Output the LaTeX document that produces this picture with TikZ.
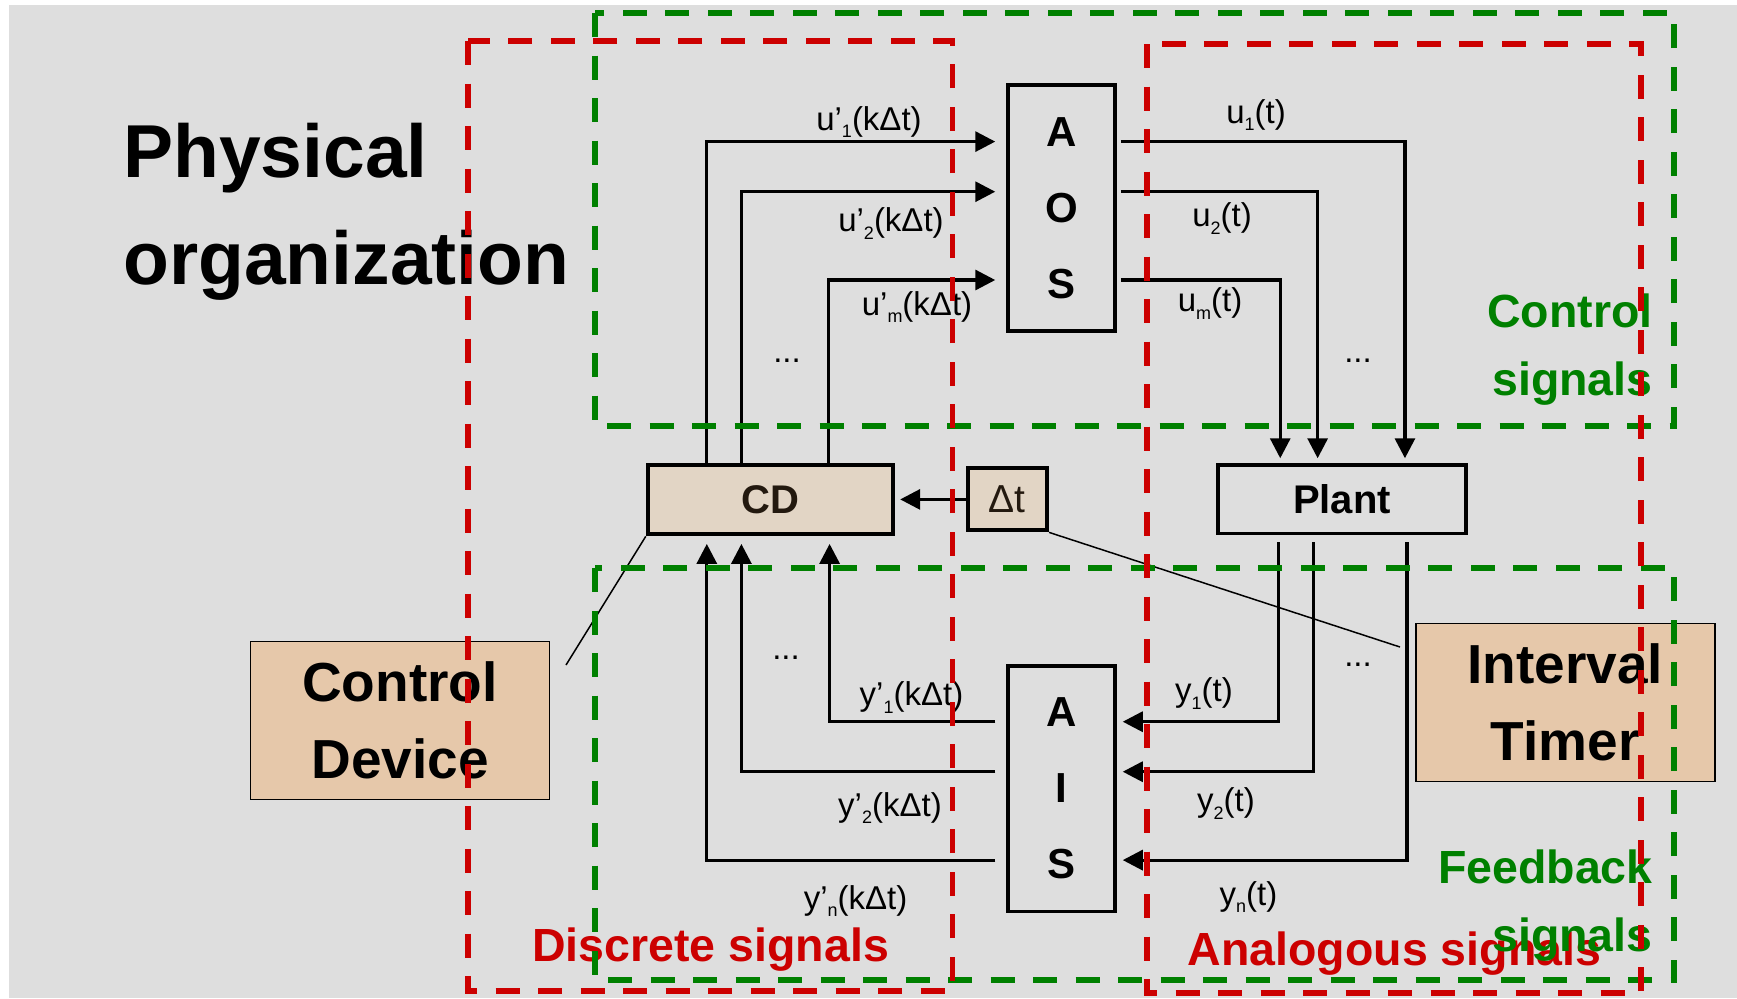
\documentclass[tikz,border=0pt]{standalone}
\usepackage{fontspec}
\setmainfont{Liberation Sans}
\usepackage{xcolor}
\usetikzlibrary{positioning, arrows.meta}
\definecolor{panelgray}{HTML}{DEDEDE}
\definecolor{framered}{HTML}{CC0000}
\definecolor{framegreen}{HTML}{008000}
\definecolor{cdbeige}{HTML}{E2D5C5}
\definecolor{calloutpeach}{HTML}{E6C8AA}
\definecolor{cdink}{HTML}{23190F}
\newcommand{\sigsub}[1]{\raisebox{-3.8pt}{\fontsize{9}{10}\selectfont #1}}
\tikzset{
  heading/.style={inner sep=0pt, align=left, font=\fontsize{37.5}{53.25}\selectfont\bfseries},
  unitbox/.style={draw=black, line width=1.75pt, inner sep=0pt, minimum width=53.5pt, minimum height=122.9pt, align=center, font=\fontsize{21}{38}\selectfont\bfseries},
  cdbox/.style={draw=black, line width=2.2pt, fill=cdbeige, inner sep=0pt, minimum width=122.5pt, minimum height=34.7pt, text=cdink, font=\fontsize{20}{24}\selectfont\bfseries},
  dtbox/.style={draw=black, line width=2pt, fill=cdbeige, inner sep=0pt, minimum width=39.75pt, minimum height=31pt, text=cdink, font=\fontsize{19.5}{23}\selectfont},
  plantbox/.style={draw=black, line width=1.75pt, inner sep=0pt, minimum width=124pt, minimum height=34.2pt, font=\fontsize{20}{24}\selectfont\bfseries},
  callout/.style={draw=black, line width=0.8pt, fill=calloutpeach, inner sep=0pt, minimum width=149.5pt, minimum height=79pt, align=center, font=\fontsize{27.5}{38.3}\selectfont\bfseries},
  siglabel/.style={inner sep=0pt, anchor=base, font=\fontsize{16.5}{20}\selectfont},
  zonered/.style={inner sep=0pt, anchor=base, text=framered, font=\fontsize{23.25}{34}\selectfont\bfseries},
  zonegreen/.style={inner sep=0pt, anchor=east, align=right, text=framegreen, font=\fontsize{23.25}{34}\selectfont\bfseries},
  sig/.style={-{Triangle[length=10pt, width=10pt]}, line width=1.6pt, draw=black},
  leader/.style={line width=0.75pt, draw=black},
  redframe/.style={draw=framered, line width=2.75pt, dash pattern=on 12pt off 9.25pt},
  greenframe/.style={draw=framegreen, line width=2.75pt, dash pattern=on 12pt off 9.25pt},
}

\begin{document}
\begin{tikzpicture}[x=0.5pt, y=-0.5pt]
  \useasboundingbox (0,0) rectangle (1737,998);
  \fill[white] (0,0) rectangle (1737,998);
  \fill[panelgray] (8.5,5) rectangle (1737,998);

  % Heading
  \node[heading, anchor=west] (title) at (123,211.8) {Physical\\organization};

  % Converters, device and plant
  \node[unitbox] (aos) at (1061.5,208) {A\\O\\S};
  \node[unitbox, below=165.7pt of aos] (ais) {A\\I\\S};
  \node[cdbox] (cd) at (770.5,499.4) {CD};
  \node[dtbox, right=35.2pt of cd] (dt) {Δt};
  \node[plantbox] (plant) at (1342,499.2) {Plant};

  % Callouts
  \node[callout] (cdev) at (400,720.5) {Control\\Device};
  \node[callout] (itimer) at (1565.3,702.5) {Interval\\Timer};
  \coordinate (cdevtip) at (566,665);
  \coordinate (itimertip) at (1400,647);
  \draw[leader] (cd.south west) -- (cdevtip);
  \draw[leader] (dt.south east) -- (itimertip);

  % Control signals
  \draw[sig, shorten >=5.5pt] ([xshift=30.5pt]cd.north west) |- ([yshift=33.2pt]aos.west);
  \draw[sig, shorten >=5.5pt] ([xshift=47.8pt]cd.north west) |- ([yshift=8.15pt]aos.west);
  \draw[sig, shorten >=5.5pt] ([xshift=91.35pt]cd.north west) |- ([yshift=-36pt]aos.west);
  \draw[sig, shorten <=2pt, shorten >=2.5pt] ([yshift=33.2pt]aos.east) -| ([xshift=94.35pt]plant.north west);
  \draw[sig, shorten <=2pt, shorten >=2.5pt] ([yshift=8.15pt]aos.east) -| ([xshift=50.7pt]plant.north west);
  \draw[sig, shorten <=2pt, shorten >=2.5pt] ([yshift=-36pt]aos.east) -| ([xshift=32pt]plant.north west);

  % Feedback signals
  \draw[sig, shorten <=3.5pt, shorten >=3pt] ([xshift=31pt]plant.south west) |- ([yshift=33.5pt]ais.east);
  \draw[sig, shorten <=3.5pt, shorten >=3pt] ([xshift=48.5pt]plant.south west) |- ([yshift=8.5pt]ais.east);
  \draw[sig, shorten <=3.5pt, shorten >=3pt] ([xshift=95.4pt]plant.south west) |- ([yshift=-35.7pt]ais.east);
  \draw[sig, shorten <=5.5pt, shorten >=3.8pt] ([yshift=33.5pt]ais.west) -| ([xshift=91.9pt]cd.south west);
  \draw[sig, shorten <=5.5pt, shorten >=3.8pt] ([yshift=8.5pt]ais.west) -| ([xshift=47.8pt]cd.south west);
  \draw[sig, shorten <=5.5pt, shorten >=3.8pt] ([yshift=-35.7pt]ais.west) -| ([xshift=30.5pt]cd.south west);

  % Timer tick
  \draw[sig, shorten >=2.5pt] (dt.west) -- (cd.east);

  % Signal labels
  \node[siglabel] (lu1) at (869,130) {u’\sigsub{1}(kΔt)};
  \node[siglabel] (lu2) at (891,231.7) {u’\sigsub{2}(kΔt)};
  \node[siglabel] (lum) at (917,315) {u’\sigsub{m}(kΔt)};
  \node[siglabel] (lo1) at (1256,123.3) {u\sigsub{1}(t)};
  \node[siglabel] (lo2) at (1222,226.7) {u\sigsub{2}(t)};
  \node[siglabel] (lom) at (1210,311.7) {u\sigsub{m}(t)};
  \node[siglabel] (ly1) at (1204,701.7) {y\sigsub{1}(t)};
  \node[siglabel] (ly2) at (1226,811.7) {y\sigsub{2}(t)};
  \node[siglabel] (lyn) at (1248.5,905) {y\sigsub{n}(t)};
  \node[siglabel] (lq1) at (911.5,705.5) {y’\sigsub{1}(kΔt)};
  \node[siglabel] (lq2) at (890,816) {y’\sigsub{2}(kΔt)};
  \node[siglabel] (lqn) at (855.6,909) {y’\sigsub{n}(kΔt)};
  \node[siglabel] (dotsul) at (787,362) {...};
  \node[siglabel] (dotsur) at (1358,362) {...};
  \node[siglabel] (dotsll) at (786,659) {...};
  \node[siglabel] (dotslr) at (1358,666) {...};

  % Zone names
  \node[zonered] (ldisc) at (710.7,961) {Discrete signals};
  \node[zonered] (lanal) at (1394.5,965) {Analogous signals};
  \node[zonegreen] (lctrl) at (1653,349.4) {Control\\signals};
  \node[zonegreen] (lfeed) at (1653,905.5) {Feedback\\signals};

  % Dashed zones
  \draw[greenframe] (595,13) rectangle (1674,426);
  \draw[greenframe] (595,568) rectangle (1674,980);
  \draw[redframe] (468,41) rectangle (952.5,991);
  \draw[redframe] (1147,44) rectangle (1641,993);
\end{tikzpicture}
\end{document}
